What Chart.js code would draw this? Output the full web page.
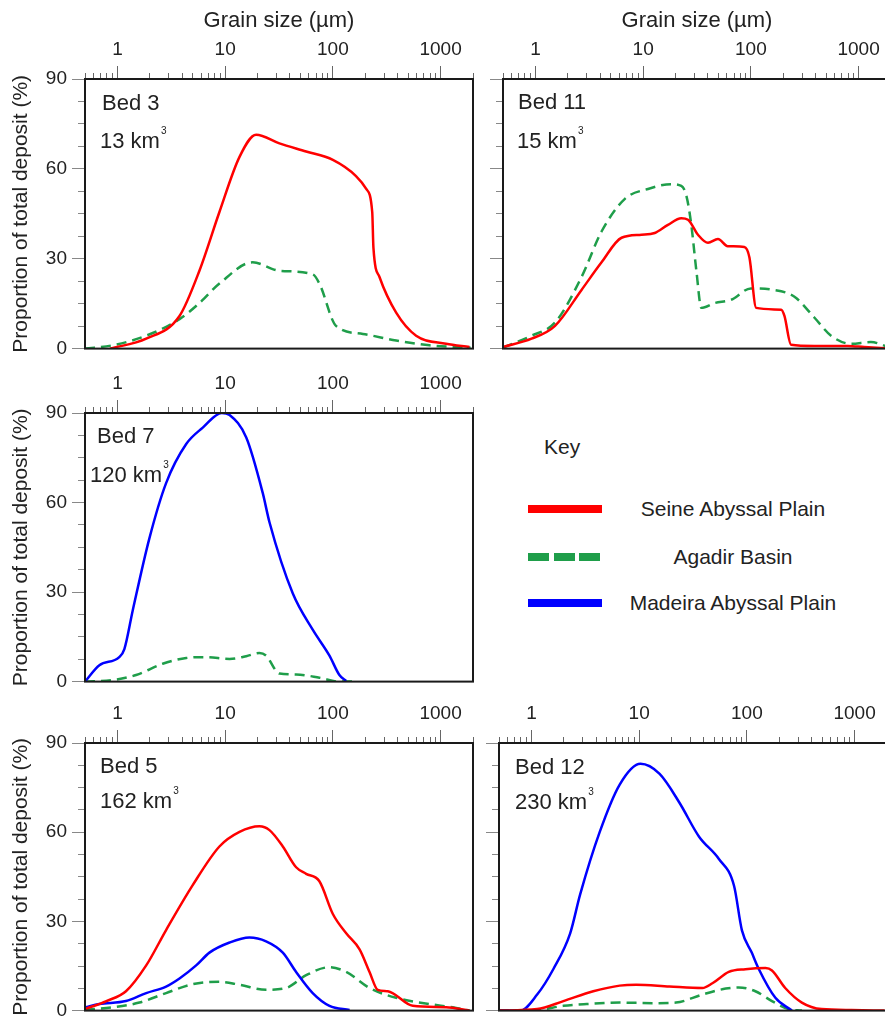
<!DOCTYPE html>
<html>
<head>
<meta charset="utf-8">
<script src="https://cdn.jsdelivr.net/npm/chart.js@4.4.0/dist/chart.umd.min.js"></script>
<style>
    body { margin: 0; background: #fff; }
    #pagina { position: relative; width: 885px; height: 1027px; overflow: hidden; font-family: "Liberation Sans", Arial, sans-serif; color: #222; }
    canvas { position: absolute; }
    .rotulo { position: absolute; font-size: 22px; line-height: 26px; white-space: nowrap; }
    .rotulo sup { font-size: 10px; position: relative; top: -6px; margin-left: 1px; }
    .chave { position: absolute; font-size: 21px; line-height: 26px; white-space: nowrap; }
    .centro { width: 300px; text-align: center; }
    .barra { position: absolute; height: 8px; }
</style>
</head>
<body>
<div id="pagina"></div>
<script>
// eixos
const tamanhosRotulos = [1, 10, 100, 1000]
const tamanhosMenores = [0.5, 0.6, 0.7, 0.8, 0.9, 1, 2, 3, 4, 5, 6, 7, 8, 9, 10, 20, 30, 40, 50, 60, 70, 80, 90,
    100, 200, 300, 400, 500, 600, 700, 800, 900, 1000, 2000]
const percentRotulos = [0, 30, 60, 90]
const percentMenores = [0, 7.5, 15, 22.5, 30, 37.5, 45, 52.5, 60, 67.5, 75, 82.5, 90]

// Bed 3
const bed3SeineX = [0.85, 1.85, 3.77, 5.77, 8.85, 13.6, 19.4, 31.9, 56.5, 100, 164, 204, 232, 238, 271, 387, 593, 1125, 1855]
const bed3SeineY = [0, 3.3, 10.9, 26, 45.6, 64, 71.4, 68.5, 65.8, 63, 57.6, 53.3, 45.6, 33.7, 23.9, 12, 4.3, 1.6, 0.5]
const bed3AgadirX = [0.5, 0.9, 1.85, 3.77, 5.77, 8.85, 18, 31.9, 65, 75, 107, 190, 387, 789, 1900]
const bed3AgadirY = [0, 1.1, 4.3, 9.8, 15.2, 21.7, 28.8, 26, 24.8, 21.7, 7.6, 4.9, 2.7, 1.1, 0.3]

// Bed 11
const bed11SeineX = [0.5, 0.92, 1.52, 2.68, 4.11, 6.3, 9.66, 12.8, 17, 22.6, 26.1, 32.3, 40, 49.5, 61, 87, 97, 112, 191, 205, 236, 390, 795, 1130, 1900]
const bed11SeineY = [0.5, 3.3, 7.6, 19.6, 28.8, 37, 38, 38.6, 41.3, 43.5, 43, 38, 35.3, 36.6, 34.2, 33.9, 30.4, 13.6, 13, 10.9, 1.3, 0.9, 0.9, 0.5, 0]
const bed11AgadirX = [0.5, 0.92, 1.52, 2.68, 4.11, 6.77, 11.1, 18.3, 22.6, 25.2, 28, 31.2, 34.7, 46, 65.7, 100, 154, 252, 390, 555, 850, 1300, 1900]
const bed11AgadirY = [0.3, 4.3, 8.7, 23.9, 39.1, 50, 53.3, 54.9, 54.3, 51, 41.3, 26, 13.6, 15.2, 16.3, 20.1, 19.7, 17.4, 10.3, 4.3, 1.6, 2.2, 0.5]

// Bed 7
const bed7MadeiraX = [0.5, 0.68, 1.04, 1.16, 1.39, 1.98, 2.83, 4.35, 6.2, 9.3, 11, 15.7, 22.3, 25.8, 42.5, 65, 93, 115, 133]
const bed7MadeiraY = [0, 5.5, 8.2, 10.9, 24, 48, 66.5, 79.6, 85.1, 90, 89.3, 81.8, 63.3, 53.4, 29.5, 17.4, 8.7, 2.2, 0.2]
const bed7AgadirX = [0.5, 0.9, 1.49, 2.63, 4.35, 6.66, 11, 15.7, 20.8, 24, 31.9, 45.6, 75, 115, 153]
const bed7AgadirY = [0, 0.5, 2.2, 6, 7.9, 8.2, 7.6, 8.5, 9.6, 8.7, 2.7, 2.4, 1.3, 0, 0]

// Bed 5
const bed5SeineX = [0.5, 0.79, 1.2, 1.85, 2.83, 5, 8.85, 13.6, 20.8, 25.8, 34.3, 45.6, 56.5, 75, 100, 133, 177, 219, 261, 324, 552, 1125, 1855]
const bed5SeineY = [0.5, 3.2, 6.5, 15.2, 27.1, 42.2, 55.2, 60.1, 62, 60.7, 55.2, 48.2, 46, 43.5, 32.5, 26, 20.6, 13, 7, 6.5, 1.6, 1.1, 0]
const bed5MadeiraX = [0.5, 0.68, 1.2, 1.85, 2.83, 3.77, 5.38, 7.15, 11, 16.8, 24, 34.3, 45.6, 65, 93, 143]
const bed5MadeiraY = [1.1, 2.2, 3.2, 5.9, 8.1, 10.8, 15.2, 19.5, 22.9, 24.6, 23.3, 19.5, 13, 5.9, 1.6, 0.2]
const bed5AgadirX = [0.5, 0.9, 1.6, 2.83, 5, 8.85, 13.6, 24, 36.8, 56.5, 93, 133, 219, 387, 789, 1298, 1855]
const bed5AgadirY = [0.3, 1.1, 2.7, 5.9, 8.9, 9.7, 8.7, 7, 7.6, 11.9, 14.6, 13, 7.6, 4.3, 2.2, 1.1, 0]

// Bed 12
const bed12SeineX = [0.5, 1.13, 1.98, 3.75, 6.6, 9.4, 19.1, 38.7, 47.9, 68, 97, 149, 171, 227, 324, 495, 935, 1900]
const bed12SeineY = [0, 0.5, 3.2, 6.5, 8.4, 8.7, 8.1, 7.6, 9.2, 13, 13.9, 14.3, 13.5, 7.6, 2.7, 0.5, 0.2, 0]
const bed12AgadirX = [0.5, 1.13, 1.98, 3.26, 6.6, 13.4, 22, 38.7, 63.7, 84, 120, 171, 244, 324]
const bed12AgadirY = [0, 0.2, 1.6, 2.2, 2.7, 2.5, 2.7, 5.4, 7.4, 7.8, 6.5, 3.2, 0.5, 0]
const bed12MadeiraX = [0.5, 0.79, 1.13, 1.6, 2.29, 2.83, 4.3, 6.6, 10.3, 15.5, 23.6, 36, 55, 76, 90, 111, 129, 184, 262]
const bed12MadeiraY = [0, 0, 5.4, 14, 26, 39, 60, 76, 83, 79.6, 70, 58.5, 51, 42, 27, 19.5, 14, 4.3, 0]

const vermelho = '#ff0000'
const verde = '#1f9e4a'
const azul = '#0000ff'
const fonte = '"Liberation Sans", Arial, sans-serif'

const paineis = [
    { nome: 'Bed 3', volume: '13', left: 0, top: 0, w: 480, h: 365, yW: 85, xH: 79, padR: 7, padB: 10, tituloX: true, tituloY: true,
      rotX: 102, rotY: 103, volX: 100, volY: 137,
      series: [[bed3SeineX, bed3SeineY, vermelho, false], [bed3AgadirX, bed3AgadirY, verde, true]] },
    { nome: 'Bed 11', volume: '15', left: 480, top: 0, w: 420, h: 365, yW: 23, xH: 79, padR: 9, padB: 10, tituloX: true, tituloY: false,
      rotX: 518, rotY: 102, volX: 517, volY: 137,
      series: [[bed11SeineX, bed11SeineY, vermelho, false], [bed11AgadirX, bed11AgadirY, verde, true]] },
    { nome: 'Bed 7', volume: '120', left: 0, top: 365, w: 480, h: 333, yW: 85, xH: 48, padR: 7, padB: 10, tituloX: false, tituloY: true,
      rotX: 97, rotY: 436, volX: 90, volY: 471,
      series: [[bed7MadeiraX, bed7MadeiraY, azul, false], [bed7AgadirX, bed7AgadirY, verde, true]] },
    { nome: 'Bed 5', volume: '162', left: 0, top: 698, w: 480, h: 329, yW: 85, xH: 45, padR: 7, padB: 7, tituloX: false, tituloY: true,
      rotX: 100, rotY: 766, volX: 100, volY: 797,
      series: [[bed5SeineX, bed5SeineY, vermelho, false], [bed5MadeiraX, bed5MadeiraY, azul, false], [bed5AgadirX, bed5AgadirY, verde, true]] },
    { nome: 'Bed 12', volume: '230', left: 480, top: 698, w: 420, h: 329, yW: 19, xH: 45, padR: 13, padB: 7, tituloX: false, tituloY: false,
      rotX: 515, rotY: 767, volX: 515, volY: 798,
      series: [[bed12SeineX, bed12SeineY, vermelho, false], [bed12MadeiraX, bed12MadeiraY, azul, false], [bed12AgadirX, bed12AgadirY, verde, true]] }
]

// caixa preta em volta da area do grafico
const moldura = {
    id: 'moldura',
    afterDraw(chart) {
        const { ctx, chartArea: a } = chart
        ctx.save()
        ctx.strokeStyle = '#1a1a1a'
        ctx.lineWidth = 2
        ctx.strokeRect(a.left, a.top, a.right - a.left, a.bottom - a.top)
        ctx.restore()
    }
}

const pagina = document.getElementById('pagina')

function criarTexto(classe, html, x, y) {
    let div = document.createElement('div')
    div.className = classe
    div.innerHTML = html
    div.style.left = x + 'px'
    div.style.top = (y - 13) + 'px'
    pagina.appendChild(div)
}

function criarPainel(p) {
    let canvas = document.createElement('canvas')
    canvas.width = p.w
    canvas.height = p.h
    canvas.style.left = p.left + 'px'
    canvas.style.top = p.top + 'px'
    pagina.appendChild(canvas)

    let datasets = p.series.map(s => ({
        data: s[0].map((v, i) => ({ x: v, y: s[1][i] })),
        borderColor: s[2],
        borderWidth: 2.5,
        borderDash: s[3] ? [10, 6] : [],
        pointRadius: 0,
        fill: false,
        cubicInterpolationMode: 'monotone',
        xAxisID: 'x',
        yAxisID: 'y'
    }))

    new Chart(canvas, {
        type: 'line',
        data: { datasets: datasets },
        options: {
            responsive: false,
            animation: false,
            layout: { padding: { left: 0, top: 0, right: p.padR, bottom: p.padB } },
            plugins: { legend: { display: false }, tooltip: { enabled: false } },
            scales: {
                x: {
                    type: 'logarithmic', position: 'top', min: 0.5, max: 2000, weight: 1,
                    afterBuildTicks: (eixo) => { eixo.ticks = tamanhosRotulos.map(v => ({ value: v })) },
                    afterFit: (eixo) => { eixo.height = p.xH },
                    ticks: { callback: (v) => String(v), autoSkip: false, maxRotation: 0, padding: 5, color: '#222', font: { family: fonte, size: 19 } },
                    grid: { drawOnChartArea: false, tickLength: 13, tickColor: '#666', tickWidth: 1 },
                    border: { display: false },
                    title: { display: p.tituloX, text: 'Grain size (µm)', color: '#222', font: { family: fonte, size: 22 }, padding: { top: 8, bottom: 0 } }
                },
                xm: {
                    type: 'logarithmic', position: 'top', min: 0.5, max: 2000, weight: 0,
                    afterBuildTicks: (eixo) => { eixo.ticks = tamanhosMenores.map(v => ({ value: v })) },
                    afterFit: (eixo) => { eixo.height = 0 },
                    ticks: { display: false },
                    grid: { drawOnChartArea: false, tickLength: 6, tickColor: '#666', tickWidth: 1 },
                    border: { display: false }
                },
                y: {
                    type: 'linear', position: 'left', min: 0, max: 90, weight: 1,
                    afterBuildTicks: (eixo) => { eixo.ticks = percentRotulos.map(v => ({ value: v })) },
                    afterFit: (eixo) => { eixo.width = p.yW },
                    // paineis da direita: marcas sem numeros
                    ticks: { padding: 5, color: p.tituloY ? '#222' : 'rgba(0,0,0,0)', font: { family: fonte, size: 19 } },
                    grid: { drawOnChartArea: false, tickLength: 13, tickColor: '#888', tickWidth: 1 },
                    border: { display: false },
                    title: { display: p.tituloY, text: 'Proportion of total deposit (%)', color: '#222', font: { family: fonte, size: 21 }, padding: { top: 9, bottom: 0 } }
                },
                ym: {
                    type: 'linear', position: 'left', min: 0, max: 90, weight: 0,
                    afterBuildTicks: (eixo) => { eixo.ticks = percentMenores.map(v => ({ value: v })) },
                    afterFit: (eixo) => { eixo.width = 0 },
                    ticks: { display: false },
                    grid: { drawOnChartArea: false, tickLength: 7, tickColor: '#888', tickWidth: 1 },
                    border: { display: false }
                }
            }
        },
        plugins: [moldura]
    })

    criarTexto('rotulo', p.nome, p.rotX, p.rotY)
    criarTexto('rotulo', p.volume + ' km<sup>3</sup>', p.volX, p.volY)
}

paineis.forEach(criarPainel)

// legenda (Key)
criarTexto('chave', 'Key', 544, 447)
const legenda = [
    ['Seine Abyssal Plain', vermelho, false, 509],
    ['Agadir Basin', verde, true, 557],
    ['Madeira Abyssal Plain', azul, false, 603]
]
legenda.forEach(item => {
    let trechos = item[2] ? [[528, 21], [554, 21], [579, 21]] : [[528, 74]]
    trechos.forEach(t => {
        let barra = document.createElement('div')
        barra.className = 'barra'
        barra.style.left = t[0] + 'px'
        barra.style.width = t[1] + 'px'
        barra.style.top = (item[3] - 4) + 'px'
        barra.style.background = item[1]
        pagina.appendChild(barra)
    })
    criarTexto('chave centro', item[0], 583, item[3])
})
</script>
</body>
</html>
